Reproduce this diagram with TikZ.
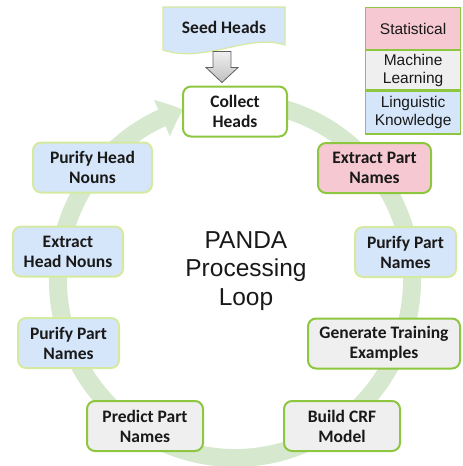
\documentclass[tikz,border=0pt]{standalone}
\usepackage{fontspec}
\setmainfont{Carlito}
\newfontfamily\arialf{Liberation Sans}
\usetikzlibrary{arrows.meta,bending,calc}
\definecolor{ringc}{RGB}{214,232,205}
\definecolor{pinkc}{RGB}{245,200,210}
\definecolor{grayc}{RGB}{239,239,239}
\definecolor{bluec}{RGB}{214,230,250}
\definecolor{dgreen}{RGB}{141,198,63}
\definecolor{lgreen}{RGB}{212,234,160}
\definecolor{txt}{RGB}{25,25,25}
\tikzset{
  box/.style={rounded corners=8pt, align=center, text=txt,
    font=\bfseries\fontsize{17.5}{20}\selectfont,
    minimum height=50pt, inner sep=1pt, line width=2pt},
  darkbox/.style={box, draw=dgreen},
  lightbox/.style={box, draw=lgreen, fill=bluec},
  legrow/.style={draw=dgreen, line width=1.2pt, align=center, text=txt,
    font=\arialf\fontsize{15.5}{18.5}\selectfont, minimum width=95pt, inner sep=0pt},
  ringstyle/.style={draw=ringc, line width=18pt,
    -{Triangle[width=38pt,length=23pt,bend]}},
  blockarrow/.style={draw=gray!75!black, line width=0.8pt,
    top color=gray!12, bottom color=gray!50}
}
\begin{document}
\begin{tikzpicture}[x=1pt,y=1pt]
\useasboundingbox (0,0) rectangle (463,-466);
% background loop
\coordinate (ctr) at (235,-280);
\draw[ringstyle] ($(ctr)+(80:177 and 178)$) arc[start angle=80, end angle=-253, x radius=177, y radius=178];

% seed heads document shape
\draw[fill=bluec, draw=lgreen, line width=1.2pt]
  (163,-7) -- (285,-7) -- (285,-45)
  .. controls (248,-33) and (205,-64) .. (163,-50) -- cycle;
\node[font=\bfseries\fontsize{17.5}{20}\selectfont, text=txt] (seed) at (224,-27) {Seed Heads};

% nodes
\node[darkbox, fill=white, minimum width=104pt] (collect) at (235,-111.5) {Collect\\Heads};
\node[darkbox, fill=pinkc, minimum width=113pt] (extractpart) at (374.5,-168) {Extract Part\\Names};
\node[lightbox, minimum width=101pt] (purifypartR) at (405.5,-252) {Purify Part\\Names};
\node[darkbox, fill=grayc, minimum width=152pt] (generate) at (384,-343.5) {Generate Training\\Examples};
\node[darkbox, fill=grayc, minimum width=116pt] (buildcrf) at (342,-426) {Build CRF\\Model};
\node[darkbox, fill=grayc, minimum width=116pt] (predict) at (145,-426) {Predict Part\\Names};
\node[lightbox, minimum width=101pt] (purifypartL) at (68.5,-343) {Purify Part\\Names};
\node[lightbox, minimum width=110pt] (extracthead) at (68,-251.5) {Extract\\Head Nouns};
\node[lightbox, minimum width=119pt] (purifyhead) at (92.5,-167.5) {Purify Head\\Nouns};

% block arrow from seed to collect
\coordinate (atip) at ($(collect.north)+(-13,3)$);
\draw[blockarrow] ($(atip)+(-9,31)$) -- ($(atip)+(9,31)$) -- ($(atip)+(9,15)$) -- ($(atip)+(16,15)$)
  -- (atip) -- ($(atip)+(-16,15)$) -- ($(atip)+(-9,15)$) -- cycle;

% centre text
\node[font=\arialf\fontsize{24.5}{28.5}\selectfont, align=center, text=txt] (title) at (246,-271) {PANDA\\Processing\\Loop};

% legend
\node[legrow, fill=pinkc, minimum height=42pt, anchor=north west] (stat) at (365,-7) {Statistical};
\node[legrow, fill=grayc, minimum height=39pt, anchor=north] (ml) at (stat.south) {Machine\\Learning};
\node[legrow, fill=bluec, minimum height=43pt, anchor=north] (ling) at (ml.south) {Linguistic\\Knowledge};
\end{tikzpicture}
\end{document}
